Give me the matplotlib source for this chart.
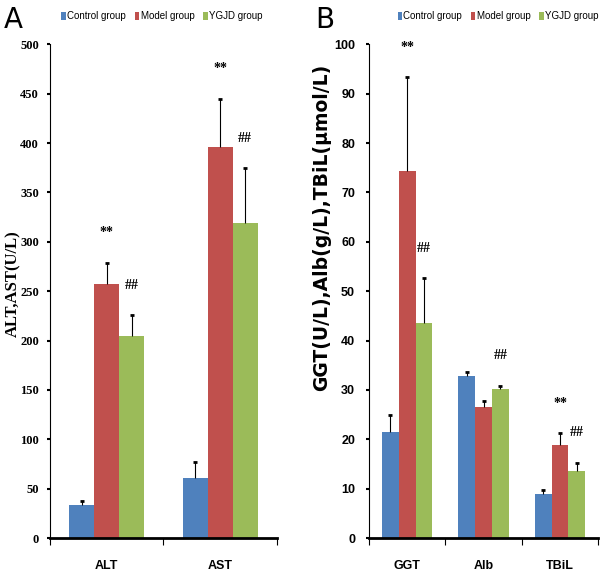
import numpy as np
import matplotlib
matplotlib.use('Agg')
import matplotlib.pyplot as plt

sans = 'Liberation Sans'
serif = 'Liberation Serif'

groups = ['Control group', 'Model group', 'YGJD group']
colors = ['#4F81BD', '#C0504D', '#9BBB59']

# panel A
cats_a = ['ALT', 'AST']
mean_a = {'Control group': [34, 61], 'Model group': [257, 396], 'YGJD group': [205, 319]}
err_a = {'Control group': [4, 16], 'Model group': [22, 49], 'YGJD group': [21, 56]}
marks_a = [(0, 1, '**'), (0, 2, '##'), (1, 1, '**'), (1, 2, '##')]

# panel B
cats_b = ['GGT', 'Alb', 'TBiL']
mean_b = {'Control group': [21.5, 32.8, 9.0], 'Model group': [74.3, 26.6, 18.8], 'YGJD group': [43.6, 30.1, 13.5]}
err_b = {'Control group': [3.5, 0.8, 0.8], 'Model group': [19.0, 1.2, 2.4], 'YGJD group': [9.0, 0.8, 1.8]}
marks_b = [(0, 1, '**'), (0, 2, '##'), (1, 2, '##'), (2, 1, '**'), (2, 2, '##')]


def panel(ax, cats, means, errs, marks, ymax, step, tick_font, ypad):
    x = np.arange(len(cats))
    w = 0.22
    tops = {}
    for i, g in enumerate(groups):
        pos = x + (i - 1) * w
        m = np.array(means[g])
        e = np.array(errs[g])
        ax.bar(pos, m, w, color=colors[i], label=g, zorder=2)
        # upper error only, small cap on top
        ax.vlines(pos, m, m + e, color='black', lw=0.8, zorder=3)
        ax.plot(pos, m + e, ls='none', marker='_', ms=3, mew=2, color='black', zorder=3)
        tops[i] = (pos, m + e)
    for c, s, t in marks:
        pos, top = tops[s]
        ax.text(pos[c], top[c] + 0.06 * ymax, t, ha='center', va='center',
                fontsize=10, fontweight='bold', family=serif)
    ax.set_xlim(-0.5, len(cats) - 0.5)
    ax.set_ylim(0, ymax)
    ax.set_yticks(np.arange(0, ymax + 1, step))
    ax.set_xticks(x)
    ax.set_xticklabels(cats, family=sans, fontweight='bold', fontsize=9)
    ax.set_xticks(np.arange(len(cats) + 1) - 0.5, minor=True)
    ax.tick_params(axis='x', which='major', length=0, pad=16)
    ax.tick_params(axis='x', which='minor', length=5, width=0.8, direction='out')
    ax.tick_params(axis='y', length=2, width=1.5, direction='out', pad=ypad)
    for lab in ax.get_yticklabels():
        lab.set_family(tick_font)
        lab.set_fontweight('bold')
        lab.set_fontsize(9)
    for sp in ['top', 'right']:
        ax.spines[sp].set_visible(False)
    ax.spines['left'].set_linewidth(0.8)
    ax.spines['bottom'].set_linewidth(2)


fig = plt.figure(figsize=(6, 5.83), dpi=100)
ax1 = fig.add_axes([0.0833, 0.077, 0.378, 0.847])
ax2 = fig.add_axes([0.615, 0.077, 0.382, 0.847])

panel(ax1, cats_a, mean_a, err_a, marks_a, 500, 50, serif, 6)
panel(ax2, cats_b, mean_b, err_b, marks_b, 100, 10, sans, 8)

ax1.set_ylabel('ALT,AST(U/L)', family=serif, fontweight='bold', fontsize=12)
ax1.yaxis.set_label_coords(-0.125, 0.516)
ax2.set_ylabel('GGT(U/L),Alb(g/L),TBiL(\u03bcmol/L)', family='DejaVu Sans',
               fontweight='bold', fontsize=13.5)
ax2.yaxis.set_label_coords(-0.166, 0.63)

for ax, cx in [(ax1, 0.27), (ax2, 0.83)]:
    h, l = ax.get_legend_handles_labels()
    fig.legend(h, l, loc='center', bbox_to_anchor=(cx, 0.972), ncol=3, frameon=False,
               handlelength=0.45, handleheight=0.8, handletextpad=0.15, columnspacing=0.9,
               prop={'family': sans, 'size': 7})

fig.text(0.006, 0.965, 'A', fontsize=20, va='center', family='DejaVu Sans')
fig.text(0.525, 0.965, 'B', fontsize=20, va='center', family='DejaVu Sans')

fig.savefig('out.png', dpi=100)
